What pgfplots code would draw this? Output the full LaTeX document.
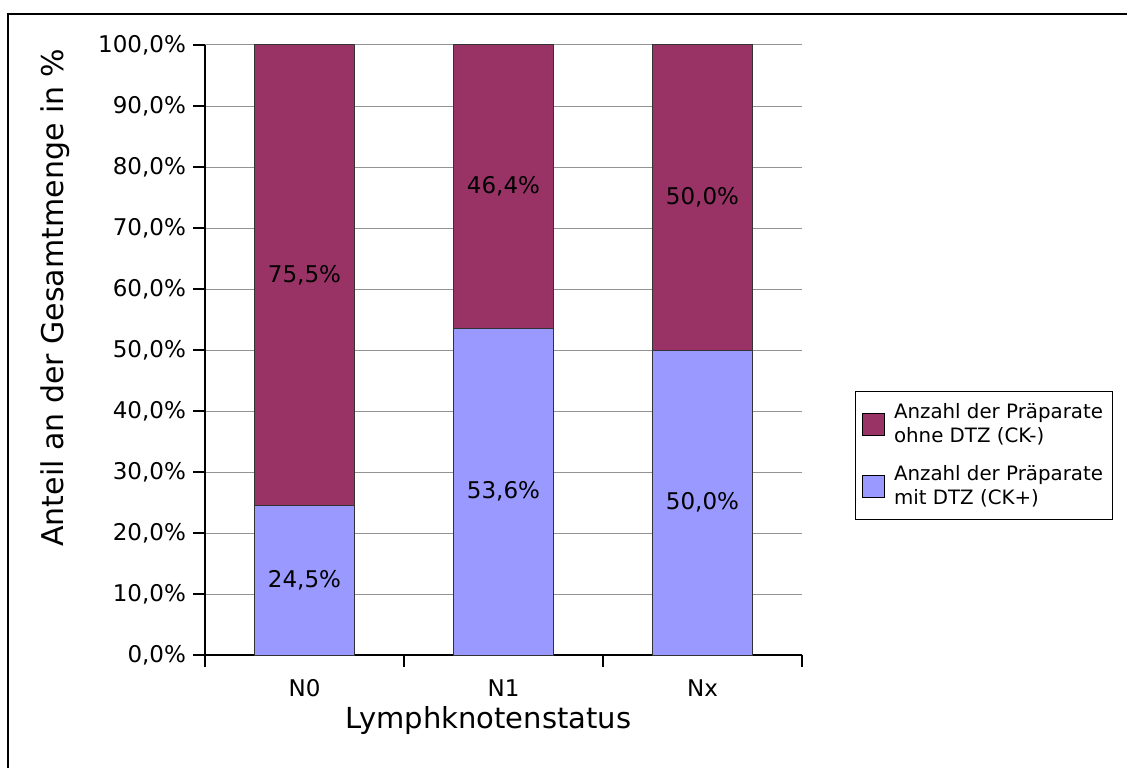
\documentclass[border=0pt]{standalone}
\usepackage{pgfplots}
\pgfplotsset{compat=1.18}
\usepackage{fontspec}
\setmainfont{DejaVu Sans}
\definecolor{ckminus}{HTML}{993366}
\definecolor{ckplus}{HTML}{9999FF}
\begin{document}
\begin{tikzpicture}
\useasboundingbox (0,0) rectangle (564pt,383.5pt);
\draw[line width=1pt] (4.2pt,-2pt) -- (4.2pt,376.3pt) -- (563.6pt,376.3pt);
\begin{axis}[
  at={(102.5pt,56pt)}, anchor=south west,
  scale only axis, width=298.5pt, height=305pt,
  ybar stacked, bar width=50pt,
  xmin=-0.5, xmax=2.5, ymin=0, ymax=100,
  axis x line*=bottom, axis y line*=left,
  axis line style={line width=0.7pt},
  tick align=outside, major tick length=6pt,
  tick style={black, line width=0.6pt},
  ytick={0,10,...,100},
  yticklabel={\pgfmathprintnumber[fixed,fixed zerofill,precision=1,use comma,assume math mode=true]{\tick}\%},
  yticklabel style={font=\fontsize{11.5}{14}\selectfont},
  xtick={-0.5,0.5,1.5,2.5}, xticklabels={,,,},
  extra x ticks={0,1,2}, extra x tick labels={N0,N1,Nx},
  extra x tick style={major tick length=0pt, grid=none,
    xticklabel style={anchor=base, yshift=-20.5pt, font=\fontsize{11.5}{14}\selectfont}},
  ymajorgrids, grid style={gray!85, line width=0.5pt},
  ylabel={Anteil an der Gesamtmenge in \%},
  ylabel style={at={(axis description cs:-0.2513,0.586)}, anchor=center, font=\fontsize{15}{18}\selectfont},
  xlabel={Lymphknotenstatus},
  xlabel style={at={(axis description cs:0.475,-0.1197)}, anchor=base, font=\fontsize{14.5}{17}\selectfont},
  reverse legend,
  legend image code/.code={\draw[#1, draw=black, line width=0.5pt] (0pt,-5.5pt) rectangle (11pt,5.5pt); \path[draw=none, fill=none] (0pt,0pt) -- (14pt,0pt);},
  legend style={at={(1.0888,0.327)}, anchor=west, draw=black, line width=0.5pt,
    font=\fontsize{9.9}{12}\selectfont, cells={anchor=west, align=left},
    row sep=6pt, inner xsep=3pt, inner ysep=4pt},
]
\addplot[fill=ckplus, draw=black!80, line width=0.5pt] coordinates {(0,24.5) (1,53.6) (2,50.0)};
\addlegendentry{Anzahl der Präparate\\mit DTZ (CK+)}
\addplot[fill=ckminus, draw=black!80, line width=0.5pt] coordinates {(0,75.5) (1,46.4) (2,50.0)};
\addlegendentry{Anzahl der Präparate\\ohne DTZ (CK-)}
\end{axis}
\begin{axis}[
  at={(102.5pt,56pt)}, anchor=south west,
  scale only axis, width=298.5pt, height=305pt,
  xmin=-0.5, xmax=2.5, ymin=0, ymax=100, hide axis,
]
\addplot[draw=none, mark=none, point meta=explicit,
  nodes near coords={\pgfmathprintnumber[fixed,fixed zerofill,precision=1,use comma,assume math mode=true]{\pgfplotspointmeta}\%},
  every node near coord/.append style={anchor=center, font=\fontsize{11.5}{14}\selectfont}]
  table[meta=v] {
x y v
0 12.25 24.5
0 62.25 75.5
1 26.8 53.6
1 76.8 46.4
2 25.0 50.0
2 75.0 50.0
};
\end{axis}
\end{tikzpicture}
\end{document}
